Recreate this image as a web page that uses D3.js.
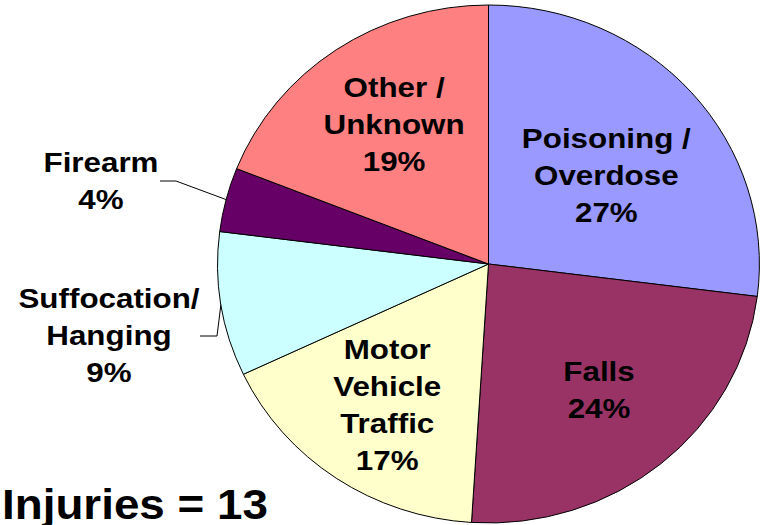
<!DOCTYPE html>
<html>
<head>
<meta charset="utf-8">
<script src="https://cdn.jsdelivr.net/npm/d3@7"></script>
<style>
  html, body { margin: 0; padding: 0; background: #fff; }
  svg text { font-family: "Liberation Sans", Arial, sans-serif; font-weight: bold; fill: #000; }
</style>
</head>
<body>
<div id="grafico"></div>
<script>
// dados do grafico
const categorias = ["Poisoning / Overdose", "Falls", "Motor Vehicle Traffic", "Suffocation/ Hanging", "Firearm", "Other / Unknown"];
const valores = [27, 24, 17, 9, 4, 19];
const rotulos = [
    ["Poisoning /", "Overdose"],
    ["Falls"],
    ["Motor", "Vehicle", "Traffic"],
    ["Suffocation/", "Hanging"],
    ["Firearm"],
    ["Other /", "Unknown"]
];
const cores = ["#9999FF", "#993366", "#FFFFCC", "#CCFFFF", "#660066", "#FF8080"];
const titulo = "Injuries = 13";

desenharGrafico();

function desenharGrafico() {
    const width = 764;
    const height = 525;
    const cx = 488.5, cy = 264;
    const raio = 259;
    const escalaX = 1.046; // pizza levemente esticada na horizontal
    const lineHeight = 37;

    const svg = d3.select("#grafico")
        .append("svg")
        .attr("width", width)
        .attr("height", height);

    const pie = d3.pie().sort(null).value(d => d);
    const arcos = pie(valores);
    const arc = d3.arc().innerRadius(0).outerRadius(raio);

    const g = svg.append("g")
        .attr("transform", `translate(${cx},${cy}) scale(${escalaX},1)`);

    g.selectAll("path")
        .data(arcos)
        .enter().append("path")
        .attr("d", arc)
        .attr("fill", (d, i) => cores[i])
        .attr("stroke", "#000")
        .attr("stroke-width", 1)
        .attr("vector-effect", "non-scaling-stroke");

    // ponto na pizza (coordenadas da tela) para um angulo e fracao do raio
    function ponto(angulo, fr) {
        return [cx + Math.sin(angulo) * raio * fr * escalaX, cy - Math.cos(angulo) * raio * fr];
    }

    // layout dos rotulos: fracao do raio + ajuste (dentro) ou posicao fixa (fora)
    const layout = [
        { fr: 0.565, dx: 3, dy: 8 },
        { fr: 0.64, dx: 0, dy: -2 },
        { fr: 0.665, dx: 0, dy: -2 },
        { fora: [109, 308], joelho: [217, 336], fim: [200, 336] },
        { fora: [101, 172], joelho: [176, 181], fim: [160, 181] },
        { fr: 0.62, dx: 0, dy: -7 }
    ];

    arcos.forEach((a, i) => {
        const linhas = rotulos[i].concat([valores[i] + "%"]);
        const meio = (a.startAngle + a.endAngle) / 2;
        const L = layout[i];
        let x, yPrimeira;
        if (L.fora) {
            x = L.fora[0];
            yPrimeira = L.fora[1];
            const borda = ponto(meio, 1);
            svg.append("polyline")
                .attr("points", [borda, L.joelho, L.fim].map(p => p.join(",")).join(" "))
                .attr("fill", "none")
                .attr("stroke", "#000")
                .attr("stroke-width", 1);
        } else {
            const c = ponto(meio, L.fr);
            x = c[0] + L.dx;
            // centraliza o bloco de texto verticalmente
            yPrimeira = c[1] - (linhas.length - 1) * lineHeight / 2 + 10 + L.dy;
        }
        const t = svg.append("text")
            .attr("text-anchor", "middle")
            .attr("font-size", 28)
            .attr("transform", `translate(${x},${yPrimeira}) scale(1.12,1)`);
        linhas.forEach((s, k) => {
            t.append("tspan").attr("x", 0).attr("y", k * lineHeight).text(s);
        });
    });

    svg.append("text")
        .attr("font-size", 42)
        .attr("transform", "translate(2,519) scale(1.09,1)")
        .text(titulo);
}
</script>
</body>
</html>
